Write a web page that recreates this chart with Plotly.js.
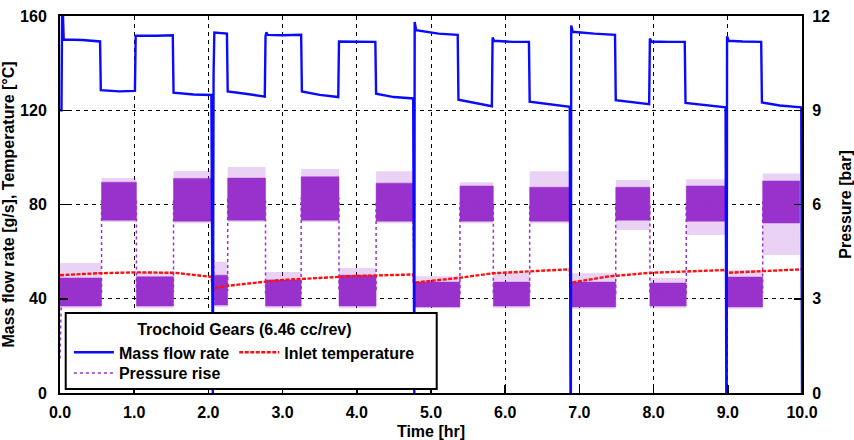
<!DOCTYPE html>
<html><head><meta charset="utf-8">
<script src="https://cdn.plot.ly/plotly-3.0.1.min.js"></script>
<style>html,body{margin:0;padding:0;background:#fff}#chart{width:854px;height:440px}</style>
</head><body><div id="chart"></div>
<script>
// ---- Mass flow rate [g/s] (left axis) ----
const massTime = [0.00,0.02,0.03,0.05,0.30,0.54,0.55,0.80,1.01,1.02,1.30,1.52,1.53,1.80,2.04,2.05,2.06,2.07,2.08,2.25,2.26,2.50,2.76,2.77,2.78,2.80,3.00,3.25,3.26,3.50,3.75,3.76,4.00,4.25,4.26,4.50,4.76,4.77,4.775,4.78,4.80,5.10,5.36,5.37,5.60,5.82,5.83,5.85,6.10,6.32,6.33,6.60,6.87,6.88,6.885,6.89,6.91,7.20,7.48,7.49,7.70,7.94,7.95,7.97,8.20,8.42,8.43,8.70,8.97,8.98,8.985,8.99,9.01,9.20,9.45,9.46,9.70,9.99,10.0];
const massFlow = [120,120,170,150,149.8,149.2,128.5,128.0,128.2,151.6,151.6,151.8,127.5,126.7,126.5,0,0,136,153,152.5,128,127,125.8,151.5,153,152,151.8,152,128,126.5,125.6,149.2,149,149,127,125.6,125,0,0,157.5,154,152.5,152,124.5,123,121.7,150.9,149.5,149,149,123.6,122.5,121.5,0,0,156,153.3,152.5,152,124.3,123.5,122.6,150.4,149.2,149,149,123.1,122,121.2,0,0,151.4,149.5,149.2,149,123.3,122,121.2,0];

// ---- Inlet temperature [°C] (left axis) ----
const tempTime  = [0.00,0.50,1.02,1.55,2.04,2.06,2.26,2.76,2.96,3.95,4.58,4.76,4.77,5.39,5.83,6.30,6.87,6.88,7.40,7.95,8.50,8.97,8.98,9.50,10.0];
const tempValue = [50.0,50.8,51.2,51.0,49.3,44.4,45.5,47.2,47.9,49.6,50.0,50.3,46.8,48.9,50.8,51.5,52.5,46.8,49.5,51.0,51.8,52.2,51.0,51.8,52.5];

// ---- Pressure rise [bar] (right axis), read as noisy bands per test period ----
const pressStart     = [0.00,0.56,1.03,1.53,2.08,2.26,2.77,3.25,3.76,4.26,4.77,5.39,5.84,6.33,6.89,7.49,7.95,8.44,8.98,9.47];
const pressEnd       = [0.56,1.03,1.53,2.05,2.26,2.77,3.25,3.76,4.26,4.76,5.39,5.84,6.33,6.87,7.49,7.95,8.44,8.97,9.47,9.97];
const pressBandLow   = [2.77,5.50,2.77,5.47,2.80,5.50,2.77,5.50,2.77,5.47,2.74,5.47,2.77,5.47,2.74,5.50,2.77,5.47,2.74,5.41];
const pressBandHigh  = [3.66,6.71,3.70,6.83,3.75,6.84,3.60,6.88,3.75,6.68,3.53,6.59,3.53,6.55,3.53,6.55,3.50,6.59,3.69,6.75];
const pressSpikeMax  = [4.14,6.84,3.86,7.07,4.18,7.19,3.85,7.13,3.98,7.06,3.72,6.71,3.82,7.06,3.81,6.78,3.66,6.80,3.91,6.99];
const pressSpikeMin  = [2.70,5.44,2.70,5.40,2.74,5.44,2.70,5.44,2.70,5.40,2.70,5.40,2.70,5.40,2.68,5.19,2.70,5.03,2.68,4.39];
const pressStartTime = [0.00,0.02];
const pressStartVal  = [1.10,3.20];

// ---- Axis ticks ----
const xTicks  = [0,1,2,3,4,5,6,7,8,9,10];
const yLTicks = [0,40,80,120,160];
const yRTicks = [0,3,6,9,12];

const PURPLE = '#9932CC', BLUE = '#0a0aff', RED = '#ff1010';
const FONT = 'Liberation Sans, Arial, sans-serif';
const F = (size) => ({family: FONT, size: size, color: '#000', weight: 700});

function bandPoly(lo, hi) {
  const x = [], y = [];
  for (let i = 0; i < pressStart.length; i++) {
    x.push(pressStart[i], pressEnd[i], pressEnd[i], pressStart[i], pressStart[i], null);
    y.push(lo[i], lo[i], hi[i], hi[i], lo[i], null);
  }
  return {x, y};
}
const sparse = bandPoly(pressSpikeMin, pressSpikeMax);
const dense = bandPoly(pressBandLow, pressBandHigh);

// dotted trace through the band centres (shows transitions)
const meanX = pressStartTime.slice(), meanY = pressStartVal.slice();
for (let i = 0; i < pressStart.length; i++) {
  const m = (pressBandLow[i] + pressBandHigh[i]) / 2;
  meanX.push(pressStart[i], pressEnd[i]);
  meanY.push(m, m);
}

const traces = [
  {x: sparse.x, y: sparse.y, yaxis: 'y', type: 'scatter', mode: 'lines', fill: 'toself',
   fillcolor: 'rgba(153,50,204,0.22)', line: {width: 0, color: PURPLE}, showlegend: false, hoverinfo: 'skip'},
  {x: dense.x, y: dense.y, yaxis: 'y', type: 'scatter', mode: 'lines', fill: 'toself',
   fillcolor: PURPLE, line: {width: 0.5, color: PURPLE}, showlegend: false, hoverinfo: 'skip'},
  {x: meanX, y: meanY, yaxis: 'y', type: 'scatter', mode: 'lines', name: 'Pressure rise',
   line: {color: PURPLE, width: 1.5, dash: 'dot'}, legend: 'legend2'},
  {x: tempTime, y: tempValue, yaxis: 'y2', type: 'scatter', mode: 'lines', name: 'Inlet temperature',
   line: {color: RED, width: 2.4, dash: '4px,1.5px'}, legend: 'legend', legendrank: 2},
  {x: massTime, y: massFlow, yaxis: 'y2', type: 'scatter', mode: 'lines', name: 'Mass flow rate',
   line: {color: BLUE, width: 2.4}, legend: 'legend', legendrank: 1}
];

const gridStyle = {showgrid: true, gridcolor: '#000', gridwidth: 1, griddash: '4px,4px'};
const axCommon = {showline: true, linecolor: '#000', linewidth: 2, ticks: 'inside', ticklen: 8,
  tickwidth: 1.5, tickcolor: '#000', zeroline: false, tickfont: F(16)};

const layout = {
  width: 854, height: 440,
  margin: {l: 60, r: 52, t: 16, b: 47, pad: 0},
  paper_bgcolor: '#fff', plot_bgcolor: '#fff',
  font: {family: FONT, color: '#000'},
  showlegend: true,
  xaxis: Object.assign({}, axCommon, gridStyle, {
    range: [0, 10], tickvals: xTicks, tickformat: '.1f', mirror: true, ticklabelstandoff: 4,
    title: {text: 'Time [hr]', font: F(16), standoff: 6}
  }),
  yaxis: Object.assign({}, axCommon, gridStyle, {
    side: 'right', range: [0, 12], tickvals: yRTicks, ticklabelstandoff: 5,
    title: {text: 'Pressure [bar]', font: F(16), standoff: 14}
  }),
  yaxis2: Object.assign({}, axCommon, {
    overlaying: 'y', side: 'left', range: [0, 160], tickvals: yLTicks, showgrid: false, ticklabelstandoff: 8,
    title: {text: 'Mass flow rate [g/s], Temperature [°C]', font: F(16), standoff: 4}
  }),
  legend: {
    orientation: 'h', x: 0.012, xanchor: 'left', y: 0.208, yanchor: 'top',
    bgcolor: 'rgba(0,0,0,0)', borderwidth: 0, font: F(16), itemwidth: 40,
    title: {text: 'Trochoid Gears (6.46 cc/rev)', side: 'top center', font: F(16)},
    itemclick: false, itemdoubleclick: false
  },
  legend2: {
    orientation: 'h', x: 0.012, xanchor: 'left', y: 0.098, yanchor: 'top',
    bgcolor: 'rgba(0,0,0,0)', borderwidth: 0, font: F(16), itemwidth: 40,
    itemclick: false, itemdoubleclick: false
  },
  shapes: [{
    type: 'rect', xref: 'paper', yref: 'paper', x0: 0.0077, x1: 0.5077, y0: 0.0106, y1: 0.2122,
    line: {color: '#000', width: 2}, fillcolor: '#fff', layer: 'above'
  }]
};

Plotly.newPlot('chart', traces, layout, {displayModeBar: false, staticPlot: true});
</script>
</body></html>
